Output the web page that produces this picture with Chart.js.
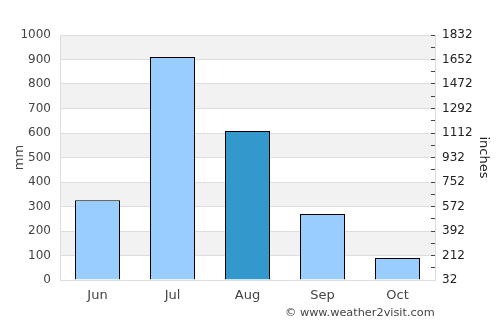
<!DOCTYPE html>
<html>
<head>
<meta charset="utf-8">
<script src="https://cdn.jsdelivr.net/npm/chart.js@4"></script>
<style>
  body { margin: 0; background: #fff; }
  #wrap { position: relative; width: 500px; height: 325px; }
  #credit { position: absolute; left: 285px; top: 306px; font: 11.3px "DejaVu Sans"; color: #444; }
</style>
</head>
<body>
<div id="wrap">
  <canvas id="rainChart" width="500" height="325"></canvas>
  <div id="credit">© www.weather2visit.com</div>
</div>
<script>
let months = ['Jun', 'Jul', 'Aug', 'Sep', 'Oct'];
let rainfall = [326, 910, 608, 269, 90];
let barColors = ['#99ccff', '#99ccff', '#3399cc', '#99ccff', '#99ccff'];

// alternating grey bands behind the bars
const bands = {
    id: 'bands',
    beforeDraw(chart) {
        let ctx = chart.ctx;
        let y = chart.scales.y;
        let area = chart.chartArea;
        ctx.save();
        ctx.fillStyle = '#f2f2f2';
        for (let v = 100; v < 1000; v += 200) {
            let top = y.getPixelForValue(v + 100);
            let bot = y.getPixelForValue(v);
            ctx.fillRect(area.left, top, area.right - area.left, bot - top);
        }
        ctx.restore();
    }
};

Chart.defaults.font.family = 'DejaVu Sans';
Chart.defaults.font.size = 12;
Chart.defaults.color = '#444';

let c = document.getElementById('rainChart').getContext('2d');

let rainChart = new Chart(c, {
    type: 'bar',
    data: {
        labels: months,
        datasets: [{
            data: rainfall,
            backgroundColor: barColors,
            borderColor: '#000',
            borderWidth: 1,
            borderSkipped: 'bottom',
            categoryPercentage: 1,
            barPercentage: 0.6
        }]
    },
    options: {
        responsive: false,
        animation: false,
        layout: { padding: { top: 35, left: 0, right: 0, bottom: 0 } },
        plugins: {
            legend: { display: false },
            tooltip: { enabled: false }
        },
        scales: {
            x: {
                afterFit(axis) { axis.height = 45; },
                grid: { display: false },
                border: { color: '#ddd' },
                ticks: { color: '#444', padding: 0, font: { size: 13 } }
            },
            y: {
                min: 0,
                max: 1000,
                afterFit(axis) { axis.width = 60; },
                ticks: { stepSize: 100, color: '#444', padding: 9, callback: v => v },
                grid: { color: '#ddd', drawTicks: false },
                border: { color: '#ddd' },
                title: { display: true, text: 'mm', color: '#444', padding: 12, font: { size: 13 } }
            },
            y2: {
                position: 'right',
                min: 32,
                max: 1832,
                afterFit(axis) { axis.width = 65; },
                afterBuildTicks(axis) {
                    let t = [];
                    for (let v = 32; v <= 1832; v += 90) t.push({ value: v });
                    axis.ticks = t;
                },
                ticks: {
                    autoSkip: false,
                    color: '#222',
                    padding: 11,
                    callback: v => ((v - 32) % 180 === 0 ? v : '')
                },
                grid: { drawOnChartArea: false, color: '#444', tickLength: -4 },
                border: { color: '#ddd' },
                title: { display: true, text: 'inches', color: '#222', padding: 9, font: { size: 13 } }
            }
        }
    },
    plugins: [bands]
});
</script>
</body>
</html>
